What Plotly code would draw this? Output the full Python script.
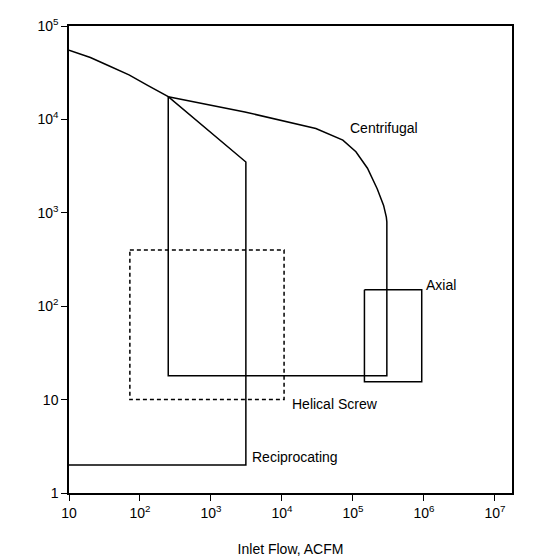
import math
import plotly.graph_objects as go

# envelope outlines (inlet flow ACFM, pressure)
centrifugal_x = [250, 3000, 3.0e4, 7.2e4, 1.1e5, 1.6e5, 2.2e5, 2.7e5, 2.95e5, 3.0e5, 3.0e5, 250, 250]
centrifugal_y = [1.75e4, 1.2e4, 8000, 6000, 4500, 3000, 1800, 1200, 900, 800, 18, 18, 1.75e4]
recip_x = [10, 20, 35, 70, 130, 250, 3100, 3100, 10]
recip_y = [5.5e4, 4.6e4, 3.8e4, 3.0e4, 2.3e4, 1.75e4, 3500, 2.0, 2.0]
helical_x = [72, 1.07e4, 1.07e4, 72, 72]
helical_y = [400, 400, 10, 10, 400]
axial_x = [1.45e5, 9.3e5, 9.3e5, 1.45e5, 1.45e5]
axial_y = [150, 150, 15.5, 15.5, 150]

labels = ["Centrifugal", "Axial", "Helical Screw", "Reciprocating"]
label_x = [8.5e4, 1.0e6, 1.3e4, 3.6e3]
label_y = [8000, 170, 9.0, 2.4]

fig = go.Figure()
line = dict(color="black", width=1.5)
fig.add_trace(go.Scatter(x=centrifugal_x, y=centrifugal_y, mode="lines", line=line))
fig.add_trace(go.Scatter(x=recip_x, y=recip_y, mode="lines", line=line))
fig.add_trace(go.Scatter(x=helical_x, y=helical_y, mode="lines",
                         line=dict(color="black", width=1.5, dash="4px,3px")))
fig.add_trace(go.Scatter(x=axial_x, y=axial_y, mode="lines", line=line))

# annotations on log axes take log10 positions
for t, x, y in zip(labels, label_x, label_y):
    fig.add_annotation(x=math.log10(x), y=math.log10(y), xref="x", yref="y", text=t,
                       showarrow=False, xanchor="left", font=dict(size=14, color="black"))

exps = ["", "<sup>2</sup>", "<sup>3</sup>", "<sup>4</sup>", "<sup>5</sup>", "<sup>6</sup>", "<sup>7</sup>"]
fig.update_xaxes(type="log", range=[1, 7.24],
                 tickvals=[10 ** i for i in range(1, 8)],
                 ticktext=["10" + e for e in exps],
                 ticks="outside", ticklen=6, tickcolor="black",
                 showline=True, linecolor="black", linewidth=1.5, mirror=True,
                 showgrid=False, zeroline=False, tickfont=dict(size=14),
                 title=dict(text="Inlet Flow, ACFM", font=dict(size=14, color="black"), standoff=25))
fig.update_yaxes(type="log", range=[0, 5],
                 tickvals=[10 ** i for i in range(0, 6)],
                 ticktext=["1", "10", "10<sup>2</sup>", "10<sup>3</sup>", "10<sup>4</sup>", "10<sup>5</sup>"],
                 ticks="outside", ticklen=6, tickcolor="black", tickfont=dict(size=14),
                 showline=True, linecolor="black", linewidth=1.5, mirror=True,
                 showgrid=False, zeroline=False)
fig.update_layout(width=545, height=558, showlegend=False,
                  margin=dict(l=61, r=41, t=8, b=73),
                  plot_bgcolor="white", paper_bgcolor="white",
                  font=dict(family="Liberation Sans, Arial", size=14, color="black"))
fig.write_html("out.html")
